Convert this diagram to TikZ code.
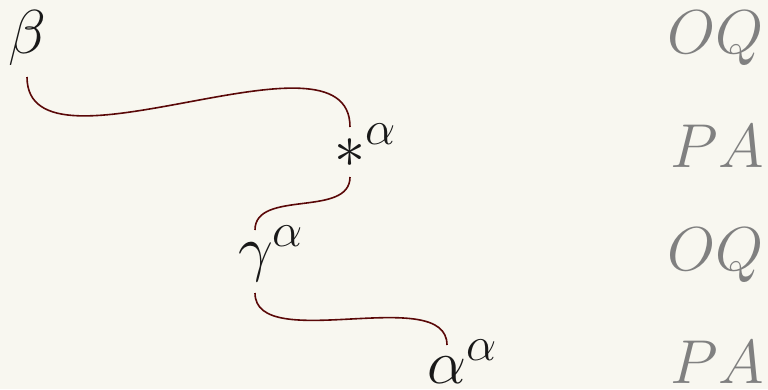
\RequirePackage{fix-cm}
\documentclass[tikz,border=0pt]{standalone}
\DeclareMathSizes{62}{62}{48}{37}
\definecolor{bgc}{HTML}{F8F7F0}
\definecolor{wirec}{HTML}{5A0808}
\definecolor{lblc}{HTML}{808080}
\begin{document}
\begin{tikzpicture}[x=1pt,y=-1pt,
  every node/.style={inner sep=0pt, outer sep=0pt, font=\fontsize{62}{70}\selectfont},
  term/.style={anchor=base west, text=black!90},
  side/.style={anchor=base east, text=lblc},
  wire/.style={draw=wirec, line width=1.6pt}]
\fill[bgc] (0,0) rectangle (768,389);
\useasboundingbox (0,0) rectangle (768,389);
\node[term] (beta) at (9,53) {$\beta$};
\node[term] (star) at (334,167) {$*^\alpha$};
\node[term] (gam) at (238,269) {$\gamma^\alpha$};
\node[term] (alp) at (427,383) {$\alpha^\alpha$};
\node[side] (r1) at (764,53) {$OQ$};
\node[side] (r2) at (764,167) {$PA$};
\node[side] (r3) at (764,270) {$OQ$};
\node[side] (r4) at (764,383) {$PA$};
\coordinate (b0) at (27,77);
\coordinate (s1) at (350,127);
\coordinate (s0) at (350,177);
\coordinate (g1) at (255,230);
\coordinate (g0) at (255,293);
\coordinate (a1) at (447,345);
\draw[wire] (b0) .. controls (27,187) and (350,17) .. (s1);
\draw[wire] (s0) .. controls (350,218) and (255,189) .. (g1);
\draw[wire] (g0) .. controls (255,355) and (447,283) .. (a1);
\end{tikzpicture}
\end{document}
